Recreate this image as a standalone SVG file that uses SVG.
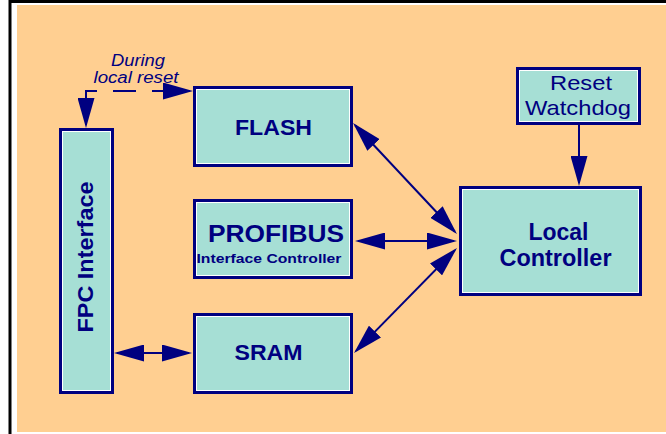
<svg xmlns="http://www.w3.org/2000/svg" width="666" height="434" viewBox="0 0 666 434">
<style>
.box{fill:#A6DFD5;stroke:#000080;stroke-width:3}
.inner{fill:none;stroke:#FFFFFF;stroke-width:1}
.t{font-family:"Liberation Sans",Arial,Helvetica,sans-serif;fill:#000080;text-anchor:middle}
.b{font-weight:bold}
.con{fill:none;stroke:#000080;stroke-width:2}
</style>
<defs>
<marker id="ah" markerUnits="userSpaceOnUse" viewBox="0 0 30 17" refX="27" refY="8.5" markerWidth="30" markerHeight="17" orient="auto-start-reverse">
<polygon points="0,0 30,8.5 0,17" fill="#000080"/>
</marker>
</defs>
<rect x="0" y="0" width="666" height="434" fill="#FFFFFF"/>
<rect x="10" y="1.5" width="700" height="500" fill="none" stroke="#000000" stroke-width="3"/>
<rect x="17" y="5" width="649" height="427" fill="#FFCF91"/>

<g id="connectors">
<path class="con" d="M86,125 V91 H190" stroke-width="3" stroke-dasharray="45 16 23 16 40" marker-start="url(#ah)" marker-end="url(#ah)"/>
<path class="con" d="M355.1,125.2 L454.9,231.8" marker-start="url(#ah)" marker-end="url(#ah)"/>
<path class="con" d="M358,241 H454" marker-start="url(#ah)" marker-end="url(#ah)"/>
<path class="con" d="M356.1,350.9 L454.9,250.1" marker-start="url(#ah)" marker-end="url(#ah)"/>
<path class="con" d="M117,353 H189" marker-start="url(#ah)" marker-end="url(#ah)"/>
<path class="con" d="M579,125 V183" marker-end="url(#ah)"/>
<text class="t" x="138" y="65.5" font-size="16" font-style="italic" textLength="54" lengthAdjust="spacingAndGlyphs">During</text>
<text class="t" x="136" y="83" font-size="16" font-style="italic" textLength="85" lengthAdjust="spacingAndGlyphs">local reset</text>
</g>

<g id="fpc">
<rect class="box" x="60.5" y="129.5" width="52" height="263"/>
<rect class="inner" x="62.5" y="131.5" width="48" height="259"/>
<text class="t b" transform="translate(92.5,257) rotate(-90)" x="0" y="0" font-size="22" textLength="151" lengthAdjust="spacingAndGlyphs">FPC Interface</text>
</g>

<g id="flash">
<rect class="box" x="194.5" y="87.5" width="157" height="78"/>
<rect class="inner" x="196.5" y="89.5" width="153" height="74"/>
<text class="t b" x="273.5" y="135" font-size="22" textLength="77" lengthAdjust="spacingAndGlyphs">FLASH</text>
</g>

<g id="profibus">
<rect class="box" x="194.5" y="200.5" width="157" height="77"/>
<rect class="inner" x="196.5" y="202.5" width="153" height="73"/>
<text class="t b" x="276" y="241.5" font-size="23" textLength="136" lengthAdjust="spacingAndGlyphs">PROFIBUS</text>
<text class="t b" x="269" y="262.5" font-size="12" textLength="145" lengthAdjust="spacingAndGlyphs">Interface Controller</text>
</g>

<g id="sram">
<rect class="box" x="194.5" y="314.5" width="157" height="78"/>
<rect class="inner" x="196.5" y="316.5" width="153" height="74"/>
<text class="t b" x="268.5" y="360" font-size="22" textLength="68" lengthAdjust="spacingAndGlyphs">SRAM</text>
</g>

<g id="watchdog">
<rect class="box" x="517.5" y="68.5" width="122" height="55"/>
<rect class="inner" x="519.5" y="70.5" width="118" height="51"/>
<text class="t" x="581" y="89.5" font-size="21" textLength="62" lengthAdjust="spacingAndGlyphs">Reset</text>
<text class="t" x="578" y="115" font-size="21" textLength="106" lengthAdjust="spacingAndGlyphs">Watchdog</text>
</g>

<g id="local">
<rect class="box" x="460.5" y="187.5" width="180" height="107"/>
<rect class="inner" x="462.5" y="189.5" width="176" height="103"/>
<text class="t b" x="558.5" y="240" font-size="23" textLength="60" lengthAdjust="spacingAndGlyphs">Local</text>
<text class="t b" x="555.5" y="266" font-size="23" textLength="112" lengthAdjust="spacingAndGlyphs">Controller</text>
</g>
</svg>
